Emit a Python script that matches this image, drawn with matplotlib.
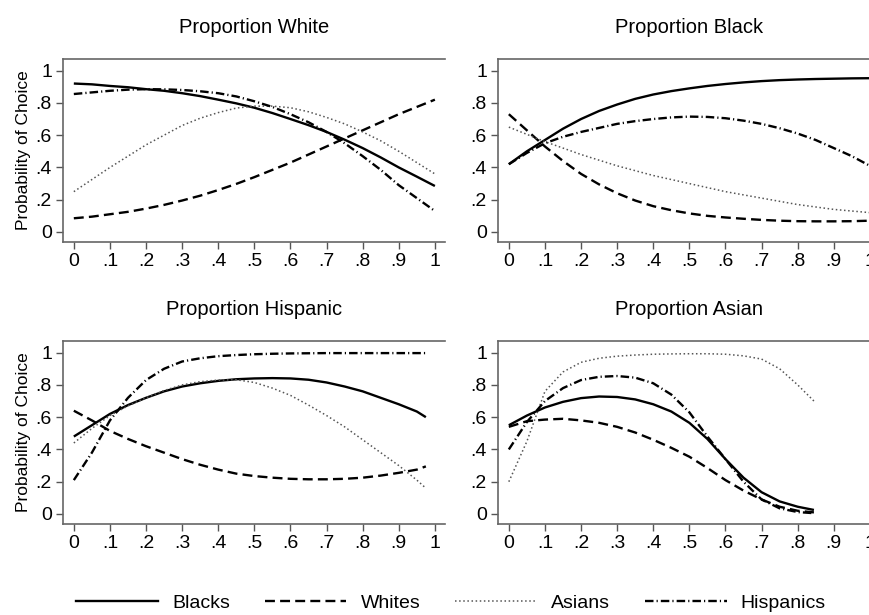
import numpy as np
import matplotlib
matplotlib.use("Agg")
import matplotlib.pyplot as plt
from matplotlib.lines import Line2D

plt.rcParams['font.family'] = ['Liberation Sans', 'DejaVu Sans']

# x grids
x_full = [0, .05, .1, .15, .2, .25, .3, .35, .4, .45, .5,
          .55, .6, .65, .7, .75, .8, .85, .9, .95, 1]
x_hisp = [0, .05, .1, .15, .2, .25, .3, .35, .4, .45, .5,
          .55, .6, .65, .7, .75, .8, .85, .9, .95, .975]
x_asian = [0, .05, .1, .15, .2, .25, .3, .35, .4, .45, .5,
           .55, .6, .65, .7, .75, .8, .845]

# Proportion White
white_blacks = [.92, .915, .905, .897, .885, .875, .86, .842, .82, .797, .77,
                .737, .70, .662, .62, .572, .52, .462, .40, .343, .285]
white_whites = [.085, .095, .11, .125, .145, .168, .195, .225, .26, .298, .34,
                .385, .43, .48, .53, .58, .63, .68, .73, .775, .82]
white_asians = [.25, .325, .40, .47, .54, .60, .66, .705, .74, .768, .78,
                .78, .77, .745, .71, .67, .62, .565, .50, .43, .36]
white_hisp = [.855, .865, .875, .882, .885, .884, .88, .872, .86, .84, .81,
              .775, .73, .68, .62, .55, .47, .385, .29, .21, .13]

# Proportion Black
black_blacks = [.42, .50, .57, .64, .70, .75, .79, .825, .852, .873, .89,
                .905, .917, .927, .935, .941, .945, .948, .95, .952, .953]
black_whites = [.73, .63, .53, .44, .36, .295, .24, .195, .16, .135, .115,
                .10, .09, .082, .075, .07, .067, .066, .066, .067, .07]
black_asians = [.65, .605, .56, .52, .48, .445, .41, .38, .35, .325, .30,
                .275, .25, .23, .21, .19, .17, .155, .14, .13, .12]
black_hisp = [.42, .49, .55, .59, .62, .645, .67, .687, .70, .71, .715,
              .713, .705, .69, .67, .643, .61, .57, .52, .47, .41]

# Proportion Hispanic
hisp_blacks = [.48, .55, .62, .675, .72, .76, .79, .81, .825, .835, .84,
               .842, .84, .832, .815, .79, .76, .72, .68, .635, .60]
hisp_whites = [.64, .58, .515, .465, .42, .38, .34, .305, .275, .25, .235,
               .225, .218, .215, .215, .218, .225, .238, .255, .275, .295]
hisp_asians = [.44, .53, .61, .67, .72, .765, .80, .82, .83, .832, .815,
               .78, .735, .675, .61, .54, .46, .38, .30, .21, .16]
hisp_hisp = [.21, .38, .58, .72, .83, .90, .945, .965, .978, .985, .99,
             .993, .995, .996, .997, .997, .997, .997, .997, .997, .997]

# Proportion Asian
asian_blacks = [.55, .61, .66, .695, .718, .728, .725, .71, .68, .635, .565,
                .465, .34, .225, .135, .078, .045, .025]
asian_whites = [.54, .575, .585, .59, .58, .565, .54, .505, .46, .41, .355,
                .285, .21, .145, .09, .045, .02, .01]
asian_asians = [.20, .45, .76, .88, .94, .965, .978, .985, .99, .992, .993,
                .993, .99, .98, .96, .90, .80, .70]
asian_hisp = [.40, .57, .70, .78, .83, .85, .855, .845, .81, .74, .63,
              .48, .34, .20, .09, .035, .012, .005]

panels = [
    ("Proportion White", x_full, white_blacks, white_whites, white_asians, white_hisp),
    ("Proportion Black", x_full, black_blacks, black_whites, black_asians, black_hisp),
    ("Proportion Hispanic", x_hisp, hisp_blacks, hisp_whites, hisp_asians, hisp_hisp),
    ("Proportion Asian", x_asian, asian_blacks, asian_whites, asian_asians, asian_hisp),
]

series_names = ["Blacks", "Whites", "Asians", "Hispanics"]
styles = [
    dict(color="black", lw=1.7, linestyle="-"),
    dict(color="black", lw=1.7, linestyle=(0, (4.2, 2.2))),
    dict(color="#555555", lw=1.1, linestyle=(0, (1, 1.7))),
    dict(color="black", lw=1.7, linestyle=(0, (3.6, 1.3, 0.5, 1.3))),
]

W, H = 869, 615
fig = plt.figure(figsize=(W / 100, H / 100), dpi=100)

# axes boxes in pixels: left, top
boxes = [(63, 59), (498, 59), (63, 341), (498, 341)]
bw, bh = 382, 183

xticks = np.arange(0, 1.01, .1)
xlabels = ["0"] + ["." + str(i) for i in range(1, 10)] + ["1"]
yticks = np.arange(0, 1.01, .2)
ylabels = ["0", ".2", ".4", ".6", ".8", "1"]

for i, (title, xs, b, w, a, h) in enumerate(panels):
    l, t = boxes[i]
    ax = fig.add_axes([l / W, 1 - (t + bh) / H, bw / W, bh / H])
    for ys, st in zip([b, w, a, h], styles):
        ax.plot(xs, ys, solid_capstyle="butt", dash_capstyle="butt", **st)
    ax.set_xlim(-0.03, 1.028)
    ax.set_ylim(-0.062, 1.072)
    ax.set_xticks(xticks)
    ax.set_xticklabels(xlabels)
    ax.set_yticks(yticks)
    ax.set_yticklabels(ylabels)
    ax.tick_params(direction="out", length=5, width=1, color="#555555",
                   labelsize=14, pad=3)
    ax.spines["right"].set_visible(False)
    for s in ["left", "bottom", "top"]:
        ax.spines[s].set_color("#666666")
        ax.spines[s].set_linewidth(1.2)
    ax.set_title(title, fontsize=14.5, pad=19)
    if i % 2 == 0:
        ax.set_ylabel("Probability of Choice", fontsize=12.5)
        ax.yaxis.set_label_coords(-0.085, 0.5)

handles = [Line2D([], [], **st) for st in styles]
fig.legend(handles, series_names, loc="center", ncol=4,
           bbox_to_anchor=(451 / W, 1 - 603 / H), frameon=False,
           fontsize=14, handlelength=4.2, handletextpad=0.72,
           columnspacing=1.8)

fig.savefig("out.png", dpi=100)
